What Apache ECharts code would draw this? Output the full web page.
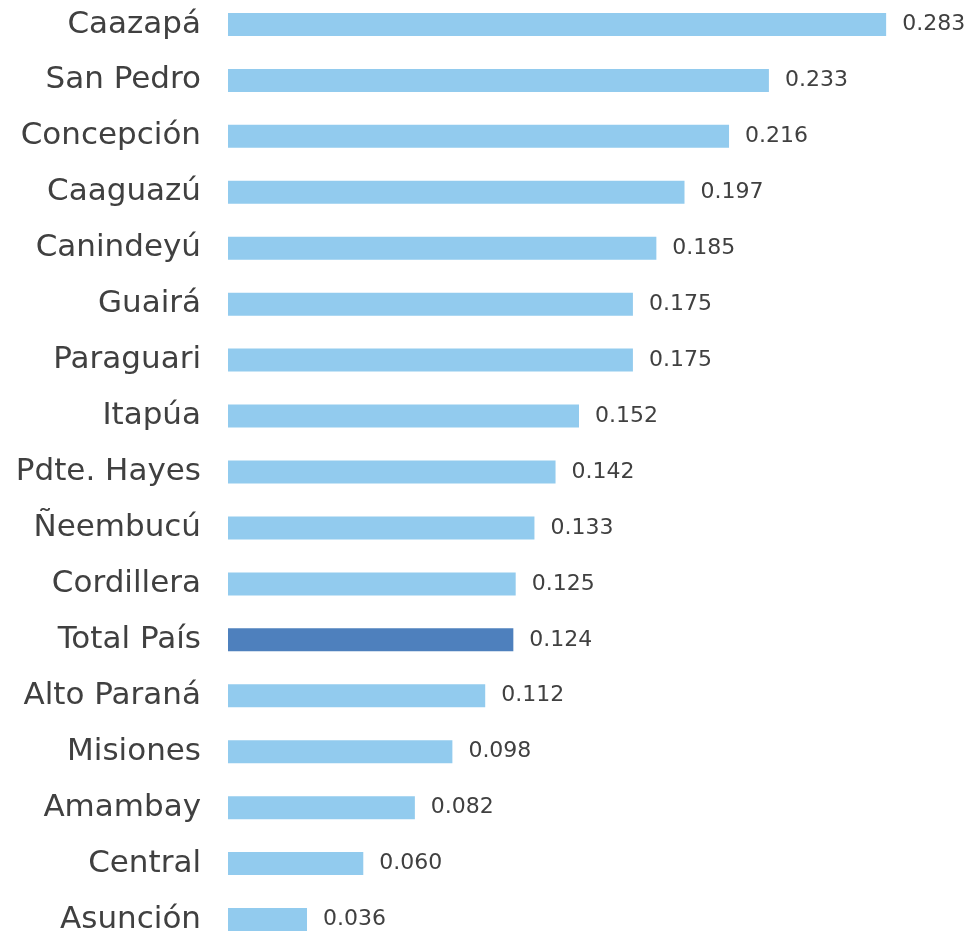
<!DOCTYPE html>
<html>
<head>
<meta charset="utf-8">
<script src="https://cdn.jsdelivr.net/npm/echarts@6/dist/echarts.min.js"></script>
<style>html,body{margin:0;padding:0;background:#fff}#c{width:977px;height:935px}</style>
</head>
<body>
<div id="c"></div>
<script>
const categories = ["Caazapá","San Pedro","Concepción","Caaguazú","Canindeyú","Guairá","Paraguari","Itapúa","Pdte. Hayes","Ñeembucú","Cordillera","Total País","Alto Paraná","Misiones","Amambay","Central","Asunción"];
const values = [0.283,0.233,0.216,0.197,0.185,0.175,0.175,0.152,0.142,0.133,0.125,0.124,0.112,0.098,0.082,0.060,0.036];
const highlight = "Total País";

const chart = echarts.init(document.getElementById('c'));
chart.setOption({
  animation: false,
  grid: {left: 228, top: -3.5, height: 951, width: 698, outerBoundsMode: 'none', containLabel: false},
  xAxis: {type: 'value', min: 0.0023, max: 0.3, show: false},
  yAxis: {
    type: 'category', data: categories, inverse: true,
    axisLine: {show: false}, axisTick: {show: false},
    axisLabel: {margin: 27, fontFamily: 'DejaVu Sans', fontSize: 31, color: '#404040'}
  },
  series: [{
    type: 'bar', barWidth: 23,
    data: values.map((v, i) => ({
      value: v,
      itemStyle: {color: categories[i] === highlight ? '#4E80BD' : '#92CBEE'}
    })),
    label: {
      show: true, position: 'right', distance: 16,
      fontFamily: 'DejaVu Sans', fontSize: 22, color: '#404040',
      formatter: p => p.value.toFixed(3)
    }
  }]
});
</script>
</body>
</html>
